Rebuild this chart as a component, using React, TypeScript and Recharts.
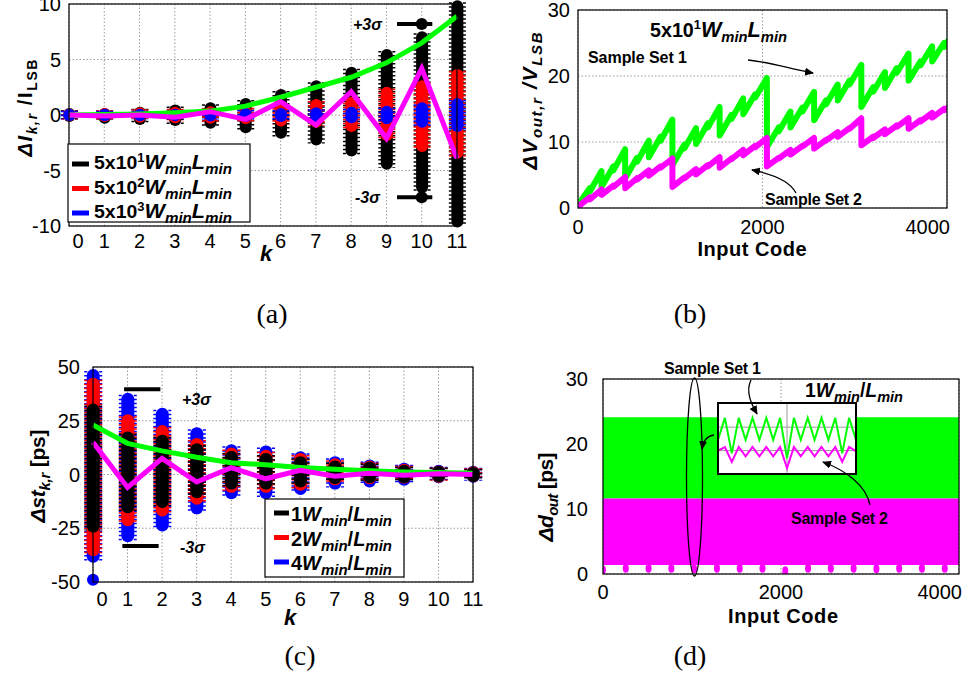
import React from 'react';
import {
  ComposedChart, LineChart, Line, Bar, Area, Scatter, XAxis, YAxis,
  CartesianGrid, ReferenceLine,
} from 'recharts';

const FONT = "'Liberation Sans', Arial, Helvetica, sans-serif";
const SERIF = "'Liberation Serif', 'Times New Roman', serif";
const GREEN = '#00ff00';
const MAGENTA = '#ff00ff';
const RED = '#ff0000';
const BLUE = '#0000ff';
const GRID = '#9a9a9a';

// ---------------- Panel (a) ----------------
const kValues = [0, 1, 2, 3, 4, 5, 6, 7, 8, 9, 10, 11];
const aTicksY = [-10, -5, 0, 5, 10];
const aGreen = [0, 0.05, 0.1, 0.2, 0.35, 0.8, 1.6, 2.5, 3.4, 4.7, 6.5, 8.9];
const aMagenta = [0, -0.1, 0, -0.2, 0.3, -0.4, 1.2, -0.9, 2.1, -2.1, 4.2, -3.9];
const aBlackLo = [-0.1, -0.25, -0.35, -0.45, -0.7, -1.1, -1.6, -2.2, -3.2, -4.4, -6.5, -9.6];
const aBlackHi = [0.1, 0.1, 0.2, 0.4, 0.6, 1.0, 1.8, 2.6, 3.8, 5.4, 7.0, 9.8];
const aRedLo = [-0.05, -0.1, -0.15, -0.2, -0.25, -0.3, -0.5, -0.6, -1.0, -1.8, -2.8, -3.4];
const aRedHi = [0.05, 0.1, 0.15, 0.2, 0.25, 0.3, 0.6, 0.9, 1.1, 2.0, 2.6, 3.6];
const aBlueLo = [-0.03, -0.03, -0.03, -0.03, -0.05, -0.08, -0.1, -0.15, -0.2, -0.3, -0.6, -1.0];
const aBlueHi = [0.03, 0.03, 0.03, 0.03, 0.05, 0.08, 0.1, 0.15, 0.2, 0.3, 0.6, 1.0];
const aOutliers = [{ k: 10, v: 8.2 }, { k: 10, v: -7.4 }];
const aSigmaK = [9.3, 10.3];
const aSigmaLevels = [8.2, -7.4];
const aLegendExps = ['1', '2', '3'];

// ---------------- Panel (b) ----------------
const bCodes = [0, 127, 128, 255, 256, 383, 384, 511, 512, 639, 640, 767, 768, 895, 896, 1023,
  1024, 1151, 1152, 1279, 1280, 1407, 1408, 1535, 1536, 1663, 1664, 1791, 1792, 1919, 1920, 2047,
  2048, 2175, 2176, 2303, 2304, 2431, 2432, 2559, 2560, 2687, 2688, 2815, 2816, 2943, 2944, 3071,
  3072, 3199, 3200, 3327, 3328, 3455, 3456, 3583, 3584, 3711, 3712, 3839, 3840, 3967, 3968, 4095];
const bSet1 = [0.5, 3.0, 2.5, 5.6, 3.2, 6.3, 5.7, 8.9, 4.5, 7.6, 7.0, 10.2, 7.7, 10.8, 10.2, 13.4,
  6.5, 9.6, 9.0, 12.1, 9.7, 12.8, 12.2, 15.3, 11.0, 14.1, 13.5, 16.6, 14.2, 17.2, 16.7, 19.7,
  9.2, 12.2, 11.6, 14.6, 12.2, 15.2, 14.6, 17.6, 13.3, 16.3, 15.7, 18.7, 16.3, 19.3, 18.7, 21.7,
  15.3, 18.3, 17.6, 20.6, 18.2, 21.2, 20.5, 23.4, 19.3, 22.2, 21.6, 24.5, 22.2, 25.0, 24.4, 27.0];
const bSet2 = [0.2, 1.6, 1.3, 2.8, 2.0, 3.4, 3.2, 4.7, 3.0, 4.5, 4.3, 5.7, 4.9, 6.3, 6.1, 7.5,
  3.2, 4.6, 4.5, 5.9, 5.1, 6.5, 6.3, 7.7, 6.1, 7.5, 7.4, 8.8, 8.0, 9.4, 9.2, 10.6,
  6.3, 7.6, 7.5, 8.8, 8.1, 9.4, 9.3, 10.6, 9.0, 10.3, 10.2, 11.5, 10.8, 12.1, 12.0, 13.6,
  9.5, 10.8, 10.6, 11.9, 11.2, 12.5, 12.3, 13.6, 12.0, 13.3, 13.1, 14.4, 13.7, 15.0, 14.8, 16.0];
const codeTicks = [0, 2000, 4000];
const bTicksY = [0, 10, 20, 30];

// ---------------- Panel (c) ----------------
const cTicksY = [-50, -25, 0, 25, 50];
const cGreen = [23, 14.5, 11, 8, 5.5, 4.5, 3.3, 2.4, 1.8, 1.2, 0.9, 0.6];
const cMagenta = [15, -6, 7.5, -3.5, 3.2, -2, 2, -0.8, 0.6, -0.3, 0.3, 0];
const cBlackLo = [-24, -15, -12.5, -8, -4, -4, -3, -1.5, -1, -1, -0.5, -0.5];
const cBlackHi = [30, 17, 15.5, 11.5, 8, 7, 5.5, 3.5, 3, 1.5, 1, 0.5];
const cRedLo = [-35, -21, -16.5, -11, -5.5, -5.5, -4.5, -2, -1.5, -1.2, -0.8, -0.5];
const cRedHi = [42, 25, 20, 14, 9.5, 8.5, 7, 4.5, 3.5, 2, 1.2, 0.8];
const cBlueLo = [-38, -28.5, -23.5, -15.5, -8.5, -8.5, -6.5, -4, -3, -2.2, -1, -0.8];
const cBlueHi = [46, 35, 28, 19, 11, 10.5, 7.8, 5.5, 4, 2.5, 1.5, 1];
const cOutliers = [{ k: 0, v: -49 }];
const cSigmaPlusK = [0.9, 1.95];
const cSigmaMinusK = [0.85, 1.9];
const cSigmaLevels = [39.6, -33.3];
const cLegendMult = ['1', '2', '4'];

// ---------------- Panel (d) ----------------
const dCodes = [0, 4095];
const dSet1Lo = [11.6, 11.6];
const dSet1Hi = [24.1, 24.1];
const dSet2Lo = [1.4, 1.4];
const dSet2Hi = [11.6, 11.6];
const dDipCodes = [0, 256, 512, 768, 1024, 1280, 1536, 1792, 2048, 2304, 2560, 2816, 3072, 3328, 3584, 3840];
const dDipValues = [0.6, 0.9, 0.9, 0.9, 0.8, 0.9, 0.9, 0.9, 0.5, 0.9, 0.9, 0.9, 0.8, 0.9, 0.9, 0.9];
const insetIdx = [0, 1, 2, 3, 4, 5, 6, 7, 8, 9, 10, 11, 12, 13, 14, 15, 16, 17, 18, 19, 20];
const insetSet1 = [48, 79, 29, 79, 48, 79, 48, 79, 48, 79, 22, 79, 48, 79, 48, 79, 48, 79, 29, 79, 48];
const insetSet2 = [33, 38, 17, 38, 25, 38, 25, 38, 25, 38, 8, 38, 25, 38, 25, 38, 25, 38, 17, 38, 32];
const insetGridY = [33, 66];
const insetGridX = [10];

// ---------------- tables ----------------
const aData = kValues.map((k, i) => ({
  k, green: aGreen[i], magenta: aMagenta[i],
  black: [aBlackLo[i], aBlackHi[i]], red: [aRedLo[i], aRedHi[i]], blue: [aBlueLo[i], aBlueHi[i]],
}));
const cData = kValues.map((k, i) => ({
  k, green: cGreen[i], magenta: cMagenta[i],
  black: [cBlackLo[i], cBlackHi[i]], red: [cRedLo[i], cRedHi[i]], blue: [cBlueLo[i], cBlueHi[i]],
}));
const bData = bCodes.map((code, i) => ({ code, s1: bSet1[i], s2: bSet2[i] }));
const dData = dCodes.map((code, i) => ({ code, s1: [dSet1Lo[i], dSet1Hi[i]], s2: [dSet2Lo[i], dSet2Hi[i]] }));
const dDips = dDipCodes.map((code, i) => ({ code, v: dDipValues[i] }));
const insetData = insetIdx.map((i, j) => ({ i, s1: insetSet1[j], s2: insetSet2[j] }));

// ---------------- helpers ----------------
const pill = (color: string) => (props: any) => {
  const { x, y, width, height } = props;
  if (x == null || y == null || width == null) return <g />;
  const top = Math.min(y, y + (height || 0));
  const h = Math.abs(height || 0);
  const r = width / 2;
  return (
    <g>
      <rect x={x} y={top - r} width={width} height={h + 2 * r} rx={r} ry={r} fill={color} />
      <line x1={x - 1} x2={x - 1} y1={top - r + 2} y2={top + h + r - 2} stroke={color} strokeWidth={3} strokeDasharray="1.5 2.5" />
      <line x1={x + width + 1} x2={x + width + 1} y1={top - r + 2} y2={top + h + r - 2} stroke={color} strokeWidth={3} strokeDasharray="1.5 2.5" />
    </g>
  );
};

const dot = (color: string, rx: number, ry: number) => (props: any) => {
  const { cx, cy } = props;
  if (cx == null || cy == null) return <g />;
  return <ellipse cx={cx} cy={cy} rx={rx} ry={ry} fill={color} />;
};

const xTick = (shiftFirst: number, lastValue: number | null) => (props: any) => {
  const { x, y, payload } = props;
  let dx = 0;
  let anchor: 'middle' | 'end' = 'middle';
  if (payload.value === 0) dx = shiftFirst;
  if (lastValue !== null && payload.value === lastValue) { anchor = 'end'; dx = 3; }
  return (
    <text x={x + dx} y={y} dy="0.71em" textAnchor={anchor} fontSize={20} fontFamily={FONT} fill="#000">
      {payload.value}
    </text>
  );
};

const yTickStyle = { fontSize: 20, fill: '#000', fontFamily: FONT };

function ClusterChart(props: {
  data: any[]; width: number; height: number; margin: any; yWidth: number; xHeight: number;
  yDomain: [number, number]; yTicks: number[]; order: string[]; colors: Record<string, string>;
  barSize: number; outliers: any[]; outlierColor: string; lineWidth: number;
  sigma: { k: number[]; v: number }[]; tickMargin: number; yTickMargin: number;
}) {
  const p = props;
  return (
    <ComposedChart width={p.width} height={p.height} data={p.data} margin={p.margin}>
      <CartesianGrid stroke={GRID} strokeDasharray="1.5 2" />
      <XAxis dataKey="k" type="number" domain={[0, 11]} ticks={kValues} interval={0}
        height={p.xHeight} axisLine={false} tickLine={false} tickMargin={p.tickMargin}
        tick={xTick(9, null)} />
      {p.order.map((s) => (
        <XAxis key={s} xAxisId={s} dataKey="k" type="number" domain={[0, 11]} hide />
      ))}
      <YAxis type="number" domain={p.yDomain} ticks={p.yTicks} interval={0} width={p.yWidth}
        axisLine={false} tickLine={false} tick={yTickStyle} tickMargin={p.yTickMargin} />
      {p.order.map((s) => (
        <Bar key={s} xAxisId={s} dataKey={s} barSize={p.barSize} fill={p.colors[s]}
          shape={pill(p.colors[s])} isAnimationActive={false} />
      ))}
      <Scatter data={p.outliers} dataKey="v" fill={p.outlierColor}
        shape={dot(p.outlierColor, 6, 6)} isAnimationActive={false} />
      {p.sigma.map((s, i) => (
        <ReferenceLine key={i} segment={[{ x: s.k[0], y: s.v }, { x: s.k[1], y: s.v }]}
          stroke="#000" strokeWidth={4} />
      ))}
      <Line dataKey="green" type="linear" stroke={GREEN} strokeWidth={p.lineWidth} dot={false}
        isAnimationActive={false} />
      <Line dataKey="magenta" type="linear" stroke={MAGENTA} strokeWidth={p.lineWidth} dot={false}
        isAnimationActive={false} />
    </ComposedChart>
  );
}

const Sub = (props: { children: any; size: number; italic?: boolean; shift?: number }) => (
  <tspan dy={props.shift ?? 5} fontSize={props.size} fontStyle={props.italic ? 'italic' : 'normal'}>{props.children}</tspan>
);

export default function App() {
  return (
    <div style={{ position: 'absolute', left: 0, top: 0, width: 968, height: 679, background: '#fff', overflow: 'hidden', fontFamily: FONT }}>
      {/* (a) */}
      <div style={{ position: 'absolute', left: 0, top: 0 }}>
        <ClusterChart data={aData} width={470} height={262}
          margin={{ top: 4, right: 13, bottom: 0, left: 0 }} yWidth={69} xHeight={36}
          yDomain={[-10, 10]} yTicks={aTicksY} order={['black', 'red', 'blue']}
          colors={{ black: '#000', red: RED, blue: BLUE }} barSize={12}
          outliers={aOutliers} outlierColor="#000" lineWidth={5}
          sigma={[{ k: aSigmaK, v: aSigmaLevels[0] }, { k: aSigmaK, v: aSigmaLevels[1] }]}
          tickMargin={2} yTickMargin={2} />
      </div>

      {/* (b) */}
      <div style={{ position: 'absolute', left: 520, top: 0 }}>
        <LineChart width={437} height={250} data={bData} margin={{ top: 10, right: 10, bottom: 0, left: 0 }}>
          <CartesianGrid stroke={GRID} strokeDasharray="1.5 2" />
          <XAxis dataKey="code" type="number" domain={[0, 4000]} ticks={codeTicks} interval={0}
            allowDataOverflow height={42} axisLine={false} tickLine={false} tickMargin={6}
            tick={xTick(0, 4000)} />
          <YAxis type="number" domain={[0, 30]} ticks={bTicksY} interval={0} width={58}
            allowDataOverflow axisLine={false} tickLine={false} tick={yTickStyle} />
          <Line dataKey="s1" type="linear" stroke={GREEN} strokeWidth={6} dot={false}
            strokeLinejoin="round" isAnimationActive={false} />
          <Line dataKey="s2" type="linear" stroke={MAGENTA} strokeWidth={6} dot={false}
            strokeLinejoin="round" isAnimationActive={false} />
        </LineChart>
      </div>

      {/* (c) */}
      <div style={{ position: 'absolute', left: 0, top: 357 }}>
        <ClusterChart data={cData} width={485} height={262}
          margin={{ top: 10, right: 12, bottom: 0, left: 0 }} yWidth={93} xHeight={37}
          yDomain={[-50, 50]} yTicks={cTicksY} order={['blue', 'red', 'black']}
          colors={{ black: '#000', red: RED, blue: BLUE }} barSize={13}
          outliers={cOutliers} outlierColor={BLUE} lineWidth={5}
          sigma={[{ k: cSigmaPlusK, v: cSigmaLevels[0] }, { k: cSigmaMinusK, v: cSigmaLevels[1] }]}
          tickMargin={4} yTickMargin={7} />
      </div>

      {/* (d) */}
      <div style={{ position: 'absolute', left: 540, top: 369 }}>
        <ComposedChart width={424} height={245} data={dData} margin={{ top: 10, right: 5, bottom: 0, left: 0 }}>
          <CartesianGrid stroke={GRID} strokeDasharray="1.5 2" />
          <XAxis dataKey="code" type="number" domain={[0, 4000]} ticks={codeTicks} interval={0}
            allowDataOverflow height={40} axisLine={false} tickLine={false} tickMargin={5}
            tick={xTick(0, 4000)} />
          <YAxis type="number" domain={[0, 30]} ticks={bTicksY} interval={0} width={63}
            allowDataOverflow axisLine={false} tickLine={false} tick={yTickStyle} tickMargin={9} />
          <Area dataKey="s1" type="linear" stroke="none" fill={GREEN} fillOpacity={1} isAnimationActive={false} />
          <Area dataKey="s2" type="linear" stroke="none" fill={MAGENTA} fillOpacity={1} isAnimationActive={false} />
          <ReferenceLine y={1.15} stroke="#fff" strokeWidth={2} strokeDasharray="5 4" />
          <Scatter data={dDips} dataKey="v" fill={MAGENTA} shape={dot(MAGENTA, 3, 4.5)} isAnimationActive={false} />
        </ComposedChart>
      </div>

      {/* (d) inset */}
      <div style={{ position: 'absolute', left: 718, top: 403, background: '#fff' }}>
        <LineChart width={138} height={71} data={insetData} margin={{ top: 0, right: 0, bottom: 0, left: 0 }}>
          <XAxis dataKey="i" type="number" domain={[0, 20]} hide />
          <YAxis type="number" domain={[0, 100]} hide />
          {insetGridY.map((v) => (
            <ReferenceLine key={'y' + v} y={v} stroke={GRID} strokeWidth={1} />
          ))}
          {insetGridX.map((v) => (
            <ReferenceLine key={'x' + v} x={v} stroke={GRID} strokeWidth={1} />
          ))}
          <Line dataKey="s1" type="linear" stroke={GREEN} strokeWidth={2} dot={false} isAnimationActive={false} />
          <Line dataKey="s2" type="linear" stroke={MAGENTA} strokeWidth={2} dot={false} isAnimationActive={false} />
        </LineChart>
      </div>

      {/* annotations */}
      <svg width={968} height={679} style={{ position: 'absolute', left: 0, top: 0, pointerEvents: 'none' }}
        fontFamily={FONT}>
        <defs>
          <marker id="ah" markerWidth="9" markerHeight="8" refX="8" refY="4" orient="auto" markerUnits="userSpaceOnUse">
            <path d="M0,0 L9,4 L0,8 z" fill="#000" />
          </marker>
        </defs>

        {/* frames */}
        <rect x={69} y={4} width={388} height={222} fill="none" stroke="#000" strokeWidth={1.2} />
        <rect x={578} y={10} width={369} height={198} fill="none" stroke="#000" strokeWidth={1.2} />
        <rect x={93} y={367} width={380} height={215} fill="none" stroke="#000" strokeWidth={1.2} />
        <rect x={603} y={379} width={356} height={195} fill="none" stroke="#000" strokeWidth={1.2} />
        <rect x={718} y={403} width={138} height={71} fill="none" stroke="#000" strokeWidth={2} />

        {/* legend (a) */}
        <rect x={68} y={144} width={182} height={78} fill="#fff" stroke="#000" strokeWidth={1.2} />
        {aLegendExps.map((e, i) => {
          const colors = ['#000', RED, BLUE];
          const base = 169 + i * 24.5;
          return (
            <g key={e}>
              <line x1={72} x2={89} y1={base - 5} y2={base - 5} stroke={colors[i]} strokeWidth={5} />
              <text x={94} y={base} fontWeight="bold" fontSize={18} textLength={138} lengthAdjust="spacingAndGlyphs">
                5x10<tspan dy={-7} fontSize={12}>{e}</tspan>
                <tspan dy={7} fontStyle="italic" fontSize={20}>W</tspan>
                <Sub size={14} italic>min</Sub>
                <tspan dy={-5} fontStyle="italic" fontSize={20}>L</tspan>
                <Sub size={14} italic>min</Sub>
              </text>
            </g>
          );
        })}

        {/* legend (c) */}
        <rect x={265} y={499} width={139} height={78} fill="#fff" stroke="#000" strokeWidth={1.2} />
        {cLegendMult.map((m, i) => {
          const colors = ['#000', RED, BLUE];
          const base = 521 + i * 24.5;
          return (
            <g key={m}>
              <line x1={274} x2={289} y1={base - 8} y2={base - 8} stroke={colors[i]} strokeWidth={5} />
              <text x={291} y={base} fontWeight="bold" fontSize={20} textLength={101} lengthAdjust="spacingAndGlyphs">
                {m}<tspan fontStyle="italic">W</tspan>
                <Sub size={15} italic>min</Sub>
                <tspan dy={-5}>/</tspan>
                <tspan fontStyle="italic">L</tspan>
                <Sub size={15} italic>min</Sub>
              </text>
            </g>
          );
        })}

        {/* sigma labels */}
        <text x={353} y={30} fontWeight="bold" fontStyle="italic" fontSize={16}>+3σ</text>
        <text x={355} y={203} fontWeight="bold" fontStyle="italic" fontSize={16}>-3σ</text>
        <text x={182} y={405} fontWeight="bold" fontStyle="italic" fontSize={16}>+3σ</text>
        <text x={180} y={553} fontWeight="bold" fontStyle="italic" fontSize={16}>-3σ</text>

        {/* axis titles */}
        <text x={32} y={108} transform="rotate(-90 32 108)" textAnchor="middle" fontWeight="bold" fontSize={20} textLength={97}>
          <tspan fontStyle="italic">ΔI</tspan><Sub size={14} italic>k,r</Sub>
          <tspan dy={-5}> /I</tspan><Sub size={14}>LSB</Sub>
        </text>
        <text x={266} y={261} textAnchor="middle" fontWeight="bold" fontStyle="italic" fontSize={22}>k</text>

        <text x={537} y={101} transform="rotate(-90 537 101)" textAnchor="middle" fontWeight="bold" fontSize={21} textLength={137}>
          <tspan fontStyle="italic">ΔV</tspan><Sub size={15} italic>out,r</Sub>
          <tspan dy={-5} fontStyle="italic"> /V</tspan><Sub size={15} italic>LSB</Sub>
        </text>
        <text x={752} y={256} textAnchor="middle" fontWeight="bold" fontSize={20} textLength={109}>Input Code</text>

        <text x={45} y={476} transform="rotate(-90 45 476)" textAnchor="middle" fontWeight="bold" fontSize={21} textLength={93}>
          <tspan fontStyle="italic">Δst</tspan><Sub size={15} italic>k,r</Sub>
          <tspan dy={-5}> [ps]</tspan>
        </text>
        <text x={290} y={625} textAnchor="middle" fontWeight="bold" fontStyle="italic" fontSize={22}>k</text>

        <text x={553} y={497} transform="rotate(-90 553 497)" textAnchor="middle" fontWeight="bold" fontSize={21} textLength={89}>
          <tspan fontStyle="italic">Δd</tspan><Sub size={15} italic>out</Sub>
          <tspan dy={-5}> [ps]</tspan>
        </text>
        <text x={783} y={623} textAnchor="middle" fontWeight="bold" fontSize={20} textLength={110}>Input Code</text>

        {/* (b) annotations */}
        <text x={650} y={37} fontWeight="bold" fontSize={20} textLength={137} lengthAdjust="spacingAndGlyphs">
          5x10<tspan dy={-8} fontSize={13}>1</tspan>
          <tspan dy={8} fontStyle="italic" fontSize={22}>W</tspan>
          <Sub size={15} italic>min</Sub>
          <tspan dy={-5} fontStyle="italic" fontSize={22}>L</tspan>
          <Sub size={15} italic>min</Sub>
        </text>
        <text x={588} y={63} fontWeight="bold" fontSize={16} textLength={99}>Sample Set 1</text>
        <text x={765} y={205} fontWeight="bold" fontSize={16} textLength={97}>Sample Set 2</text>
        <path d="M748,60 C770,62 790,69 813,73" fill="none" stroke="#000" strokeWidth={1.3} markerEnd="url(#ah)" />
        <path d="M796,193 C790,181 772,174 752,170" fill="none" stroke="#000" strokeWidth={1.3} markerEnd="url(#ah)" />

        {/* (d) annotations */}
        <text x={664} y={374} fontWeight="bold" fontSize={16} textLength={97}>Sample Set 1</text>
        <text x={805} y={397} fontWeight="bold" fontSize={20} textLength={98} lengthAdjust="spacingAndGlyphs">
          1<tspan fontStyle="italic">W</tspan>
          <Sub size={15} italic>min</Sub>
          <tspan dy={-5}>/</tspan>
          <tspan fontStyle="italic">L</tspan>
          <Sub size={15} italic>min</Sub>
        </text>
        <text x={791} y={524} fontWeight="bold" fontSize={16} textLength={97}>Sample Set 2</text>
        <ellipse cx={694.5} cy={477} rx={8} ry={99} fill="none" stroke="#000" strokeWidth={1.3} />
        <path d="M751,380 C745,392 752,405 757,414" fill="none" stroke="#000" strokeWidth={1.3} markerEnd="url(#ah)" />
        <path d="M714,435 C706,436 703,442 702,449" fill="none" stroke="#000" strokeWidth={1.3} markerEnd="url(#ah)" />
        <path d="M870,505 C866,485 845,470 823,462" fill="none" stroke="#000" strokeWidth={1.3} markerEnd="url(#ah)" />

        {/* panel labels */}
        <text x={272} y={323} textAnchor="middle" fontFamily={SERIF} fontSize={28}>(a)</text>
        <text x={690} y={323} textAnchor="middle" fontFamily={SERIF} fontSize={28}>(b)</text>
        <text x={300} y={665} textAnchor="middle" fontFamily={SERIF} fontSize={28}>(c)</text>
        <text x={690} y={665} textAnchor="middle" fontFamily={SERIF} fontSize={28}>(d)</text>
      </svg>
    </div>
  );
}
